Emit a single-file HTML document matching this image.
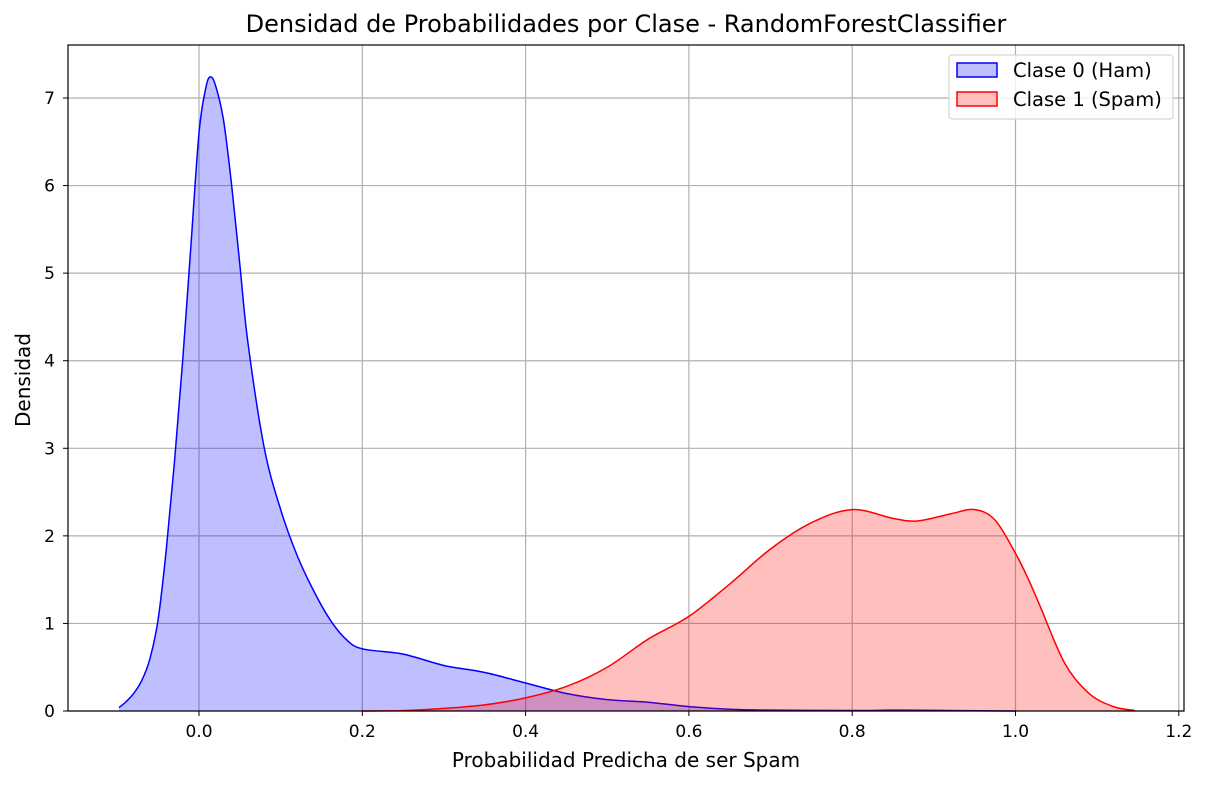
<!DOCTYPE html>
<html><head><meta charset="utf-8"><style>
body{margin:0;background:#fff;}
svg{display:block;font-family:"DejaVu Sans","Liberation Sans",sans-serif;}
</style></head><body>
<svg id="chart" width="1209" height="785" viewBox="0 0 1209 785">
<rect width="1209" height="785" fill="#fff"/>
<text x="626" y="32" font-size="24" text-anchor="middle">Densidad de Probabilidades por Clase - RandomForestClassifier</text>
<g id="grid"></g>
<g id="series"></g>
<rect x="68" y="45" width="1116" height="666" fill="none" stroke="#000" stroke-width="1.2"/>
<g id="ticks"></g>
<text x="626" y="767" font-size="20" text-anchor="middle">Probabilidad Predicha de ser Spam</text>
<text transform="translate(30,380) rotate(-90)" font-size="20" text-anchor="middle">Densidad</text>
<g>
<rect x="949" y="55" width="224" height="64" rx="3" fill="#fff" fill-opacity="0.8" stroke="#ccc"/>
<rect x="957" y="63" width="40" height="14" fill="#bfbfff" stroke="#00f" stroke-width="1.5"/>
<text x="1013" y="77" font-size="19.5">Clase 0 (Ham)</text>
<rect x="957" y="92" width="40" height="14" fill="#ffbfbf" stroke="#f00" stroke-width="1.5"/>
<text x="1013" y="106" font-size="19.5">Clase 1 (Spam)</text>
</g>
</svg>
<script>
const xTicks=[0.0,0.2,0.4,0.6,0.8,1.0,1.2];
const yTicks=[0,1,2,3,4,5,6,7];
const hamX=[-0.098,-0.09,-0.08,-0.07,-0.06,-0.05,-0.04,-0.03,-0.02,-0.01,0.0,0.008,0.0135,0.02,0.03,0.04,0.05,0.06,0.08,0.1,0.12,0.14,0.16,0.18,0.2,0.25,0.3,0.35,0.4,0.45,0.5,0.55,0.6,0.65,0.7,0.8,0.86,0.95,1.0];
const hamY=[0.04,0.1,0.2,0.35,0.6,1.05,1.85,2.85,4.0,5.3,6.6,7.1,7.24,7.15,6.75,6.0,5.1,4.2,3.0,2.3,1.78,1.38,1.05,0.82,0.71,0.65,0.52,0.44,0.32,0.2,0.13,0.1,0.05,0.02,0.01,0.005,0.01,0.003,0.0];
const spamX=[0.2,0.25,0.3,0.35,0.4,0.45,0.5,0.55,0.6,0.65,0.7,0.75,0.8,0.85,0.88,0.92,0.95,0.975,1.0,1.015,1.03,1.06,1.09,1.12,1.146];
const spamY=[0.0,0.005,0.03,0.07,0.15,0.28,0.5,0.82,1.08,1.45,1.85,2.15,2.3,2.2,2.17,2.25,2.3,2.18,1.8,1.52,1.2,0.55,0.2,0.05,0.005];
const NS='http://www.w3.org/2000/svg';
const sx=v=>199+v*816.5;
const sy=v=>711-v*87.57;
function mk(t,a,p){const e=document.createElementNS(NS,t);for(const k in a)e.setAttribute(k,a[k]);p.appendChild(e);return e;}
const grid=document.getElementById('grid'),ticks=document.getElementById('ticks'),ser=document.getElementById('series');
xTicks.forEach(v=>{
 const g=mk('line',{x1:sx(v),x2:sx(v),y1:45,y2:711,stroke:'#b0b0b0','stroke-width':1.2},grid);
 
 
 mk('line',{x1:sx(v),x2:sx(v),y1:711,y2:716,stroke:'#000'},ticks);
 const t=mk('text',{x:sx(v),y:737,'font-size':17,'text-anchor':'middle'},ticks);
 t.textContent=v.toFixed(1);
 
 
});
yTicks.forEach(v=>{
 const g=mk('line',{x1:68,x2:1184,y1:sy(v),y2:sy(v),stroke:'#b0b0b0','stroke-width':1.2},grid);
 
 
 mk('line',{x1:63,x2:68,y1:sy(v),y2:sy(v),stroke:'#000'},ticks);
 const t=mk('text',{x:55,y:sy(v)+6,'font-size':17,'text-anchor':'end'},ticks);
 t.textContent=String(v);
 
 
});
function smooth(xs,ys){
 const p=xs.map((x,i)=>[sx(x),sy(ys[i])]);
 let d='M'+p[0][0]+','+p[0][1];
 for(let i=0;i<p.length-1;i++){
  const p0=p[i-1]||p[i],p1=p[i],p2=p[i+1],p3=p[i+2]||p2;
  const c1=[p1[0]+(p2[0]-p0[0])/6,p1[1]+(p2[1]-p0[1])/6];
  const c2=[p2[0]-(p3[0]-p1[0])/6,p2[1]-(p3[1]-p1[1])/6];
  d+=`C${c1[0]},${c1[1]} ${c2[0]},${c2[1]} ${p2[0]},${p2[1]}`;
 }
 return d;
}
function area(xs,ys,fill,stroke,name){
 const line=smooth(xs,ys);
 const a=mk('path',{d:line+`L${sx(xs[xs.length-1])},${sy(0)}L${sx(xs[0])},${sy(0)}Z`,fill:fill,'fill-opacity':0.25,stroke:'none'},ser);
 
 
 const l=mk('path',{d:line,fill:'none',stroke:stroke,'stroke-width':1.5},ser);
 
 
}
area(hamX,hamY,'#0000ff','#0000ff','ham-density');
area(spamX,spamY,'#ff0000','#ff0000','spam-density');
</script>
</body></html>
